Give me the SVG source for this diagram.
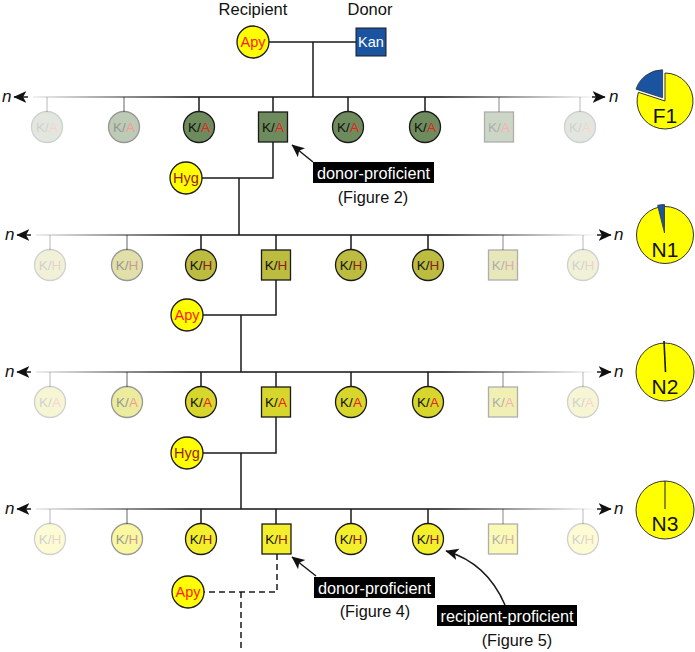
<svg xmlns="http://www.w3.org/2000/svg" width="695" height="652" viewBox="0 0 695 652">
<defs>
<linearGradient id="gl" gradientUnits="userSpaceOnUse" x1="33" y1="0" x2="598" y2="0">
<stop offset="0" stop-color="#ececec"/>
<stop offset="0.28" stop-color="#111"/>
<stop offset="0.72" stop-color="#111"/>
<stop offset="1" stop-color="#ffffff"/>
</linearGradient>
<marker id="ah" viewBox="0 0 10 10" refX="9.5" refY="5" markerWidth="13" markerHeight="13" markerUnits="userSpaceOnUse" orient="auto">
<path d="M0,0.5 L10,5 L0,9.5 L2.5,5 Z" fill="#111"/>
</marker>
<style>
text{font-family:"Liberation Sans",Arial,sans-serif;}
.cn{stroke:#1a1a1a;stroke-width:1.5;fill:none;}
.ds{stroke:#1a1a1a;stroke-width:1.5;fill:none;stroke-dasharray:6,4;}
.gen{stroke:url(#gl);stroke-width:1.6;fill:none;}
.nd{stroke:#1a1a1a;stroke-width:1.3;}
.f1{fill:#6e8b5d;}
.n1{fill:#bbbc40;}
.n2{fill:#d6d62c;}
.n3{fill:#f3ef2d;}
.par{fill:#ffff00;stroke:#1a1a1a;stroke-width:1.3;}
.nt{font-size:13.5px;fill:#111;text-anchor:middle;}
.ra{fill:#e8231f;}
.rh{fill:#8e1b1b;}
.pt{font-size:14.5px;text-anchor:middle;}
.hd{font-size:16.5px;fill:#111;text-anchor:middle;}
.lb{font-size:16.3px;fill:#fff;text-anchor:middle;}
.fg{font-size:16.3px;fill:#111;text-anchor:middle;}
.nn{font-size:17px;font-style:italic;fill:#111;}
.pie{fill:#ffff00;stroke:#333;stroke-width:1;}
.pb{fill:#1a54a0;stroke:#333;stroke-width:0.8;}
.pl{font-size:21px;fill:#111;text-anchor:middle;}
</style>
</defs>
<rect width="695" height="652" fill="#fff"/>

<text class="hd" x="253" y="15">Recipient</text>
<text class="hd" x="370" y="15">Donor</text>

<g id="connectors">
<path class="cn" d="M269,42 H356 M313,42 V97"/>
<path class="gen" d="M33,97 H598"/>
<path class="gen" d="M36,235 H601"/>
<path class="gen" d="M36,372 H601"/>
<path class="gen" d="M36,509 H601"/>
<path class="cn" d="M28,97 H14" marker-end="url(#ah)"/>
<path class="cn" d="M592,97 H605" marker-end="url(#ah)"/>
<path class="cn" d="M31,235 H17" marker-end="url(#ah)"/>
<path class="cn" d="M597,235 H611" marker-end="url(#ah)"/>
<path class="cn" d="M31,372 H17" marker-end="url(#ah)"/>
<path class="cn" d="M597,372 H611" marker-end="url(#ah)"/>
<path class="cn" d="M31,509 H17" marker-end="url(#ah)"/>
<path class="cn" d="M597,509 H611" marker-end="url(#ah)"/>
<path class="cn" opacity="0.2" d="M47,97 V112"/>
<path class="cn" opacity="0.45" d="M124,97 V112"/>
<path class="cn" d="M199,97 V112 M273,97 V112 M348,97 V112 M425,97 V112"/>
<path class="cn" opacity="0.35" d="M499,97 V112"/>
<path class="cn" opacity="0.2" d="M580,97 V112"/>
<path class="cn" opacity="0.2" d="M50,235 V250"/>
<path class="cn" opacity="0.45" d="M127,235 V250"/>
<path class="cn" d="M201,235 V250 M276,235 V250 M351,235 V250 M428,235 V250"/>
<path class="cn" opacity="0.35" d="M503,235 V250"/>
<path class="cn" opacity="0.2" d="M583,235 V250"/>
<path class="cn" opacity="0.2" d="M50,372 V387"/>
<path class="cn" opacity="0.45" d="M127,372 V387"/>
<path class="cn" d="M201,372 V387 M276,372 V387 M351,372 V387 M428,372 V387"/>
<path class="cn" opacity="0.35" d="M503,372 V387"/>
<path class="cn" opacity="0.2" d="M583,372 V387"/>
<path class="cn" opacity="0.2" d="M50,509 V524"/>
<path class="cn" opacity="0.45" d="M127,509 V524"/>
<path class="cn" d="M201,509 V524 M276,509 V524 M351,509 V524 M428,509 V524"/>
<path class="cn" opacity="0.35" d="M503,509 V524"/>
<path class="cn" opacity="0.2" d="M583,509 V524"/>
<path class="cn" d="M273,142 V178 H202 M239,178 V235"/>
<path class="cn" d="M276,280 V315 H203 M241,315 V372"/>
<path class="cn" d="M276,417 V453 H203 M241,453 V509"/>
<path class="ds" d="M277,554 V592 H204 M241,592 V652"/>
<path class="cn" d="M313,162 L292,145" marker-end="url(#ah)"/>
<path class="cn" d="M316,576 L292,557" marker-end="url(#ah)"/>
<path class="cn" d="M505,605 Q487,563 446,551" marker-end="url(#ah)"/>
</g>

<text class="nn" x="2" y="102">n</text>
<text class="nn" x="609" y="102">n</text>
<text class="nn" x="5" y="240">n</text>
<text class="nn" x="614" y="240">n</text>
<text class="nn" x="5" y="377">n</text>
<text class="nn" x="614" y="377">n</text>
<text class="nn" x="5" y="514">n</text>
<text class="nn" x="614" y="514">n</text>

<g id="p-apy0"><circle class="par" cx="253" cy="42" r="16"/><text class="pt" x="253" y="47" fill="#ff1a1a">Apy</text></g>
<g id="p-kan"><rect x="356" y="28" width="30" height="28" fill="#1a54a0" stroke="#1a1a1a" stroke-width="1"/><text class="pt" x="371" y="47" fill="#fff">Kan</text></g>
<g id="p-hyg1"><circle class="par" cx="186" cy="178" r="16"/><text class="pt" x="186" y="183" fill="#9a1a1a">Hyg</text></g>
<g id="p-apy2"><circle class="par" cx="187" cy="315" r="16"/><text class="pt" x="187" y="320" fill="#ff1a1a">Apy</text></g>
<g id="p-hyg3"><circle class="par" cx="187" cy="453" r="16"/><text class="pt" x="187" y="458" fill="#9a1a1a">Hyg</text></g>
<g id="p-apy4"><circle class="par" cx="188" cy="592" r="16"/><text class="pt" x="188" y="597" fill="#ff1a1a">Apy</text></g>

<g id="f1-1" opacity="0.2"><circle class="nd f1" cx="47" cy="127" r="15.5"/><text class="nt" x="47" y="132">K/<tspan class="ra">A</tspan></text></g>
<g id="f1-2" opacity="0.45"><circle class="nd f1" cx="124" cy="127" r="15.5"/><text class="nt" x="124" y="132">K/<tspan class="ra">A</tspan></text></g>
<g id="f1-3"><circle class="nd f1" cx="199" cy="127" r="15.5"/><text class="nt" x="199" y="132">K/<tspan class="ra">A</tspan></text></g>
<g id="f1-4"><rect class="nd f1" x="258.5" y="112" width="29" height="30"/><text class="nt" x="273" y="132">K/<tspan class="ra">A</tspan></text></g>
<g id="f1-5"><circle class="nd f1" cx="348" cy="127" r="15.5"/><text class="nt" x="348" y="132">K/<tspan class="ra">A</tspan></text></g>
<g id="f1-6"><circle class="nd f1" cx="425" cy="127" r="15.5"/><text class="nt" x="425" y="132">K/<tspan class="ra">A</tspan></text></g>
<g id="f1-7" opacity="0.35"><rect class="nd f1" x="484.5" y="112" width="29" height="30"/><text class="nt" x="499" y="132">K/<tspan class="ra">A</tspan></text></g>
<g id="f1-8" opacity="0.2"><circle class="nd f1" cx="580" cy="127" r="15.5"/><text class="nt" x="580" y="132">K/<tspan class="ra">A</tspan></text></g>

<g id="n1-1" opacity="0.2"><circle class="nd n1" cx="50" cy="265" r="15.5"/><text class="nt" x="50" y="270">K/<tspan class="rh">H</tspan></text></g>
<g id="n1-2" opacity="0.45"><circle class="nd n1" cx="127" cy="265" r="15.5"/><text class="nt" x="127" y="270">K/<tspan class="rh">H</tspan></text></g>
<g id="n1-3"><circle class="nd n1" cx="201" cy="265" r="15.5"/><text class="nt" x="201" y="270">K/<tspan class="rh">H</tspan></text></g>
<g id="n1-4"><rect class="nd n1" x="261.5" y="250" width="29" height="30"/><text class="nt" x="276" y="270">K/<tspan class="rh">H</tspan></text></g>
<g id="n1-5"><circle class="nd n1" cx="351" cy="265" r="15.5"/><text class="nt" x="351" y="270">K/<tspan class="rh">H</tspan></text></g>
<g id="n1-6"><circle class="nd n1" cx="428" cy="265" r="15.5"/><text class="nt" x="428" y="270">K/<tspan class="rh">H</tspan></text></g>
<g id="n1-7" opacity="0.35"><rect class="nd n1" x="488.5" y="250" width="29" height="30"/><text class="nt" x="503" y="270">K/<tspan class="rh">H</tspan></text></g>
<g id="n1-8" opacity="0.2"><circle class="nd n1" cx="583" cy="265" r="15.5"/><text class="nt" x="583" y="270">K/<tspan class="rh">H</tspan></text></g>

<g id="n2-1" opacity="0.2"><circle class="nd n2" cx="50" cy="402" r="15.5"/><text class="nt" x="50" y="407">K/<tspan class="ra">A</tspan></text></g>
<g id="n2-2" opacity="0.45"><circle class="nd n2" cx="127" cy="402" r="15.5"/><text class="nt" x="127" y="407">K/<tspan class="ra">A</tspan></text></g>
<g id="n2-3"><circle class="nd n2" cx="201" cy="402" r="15.5"/><text class="nt" x="201" y="407">K/<tspan class="ra">A</tspan></text></g>
<g id="n2-4"><rect class="nd n2" x="261.5" y="387" width="29" height="30"/><text class="nt" x="276" y="407">K/<tspan class="ra">A</tspan></text></g>
<g id="n2-5"><circle class="nd n2" cx="351" cy="402" r="15.5"/><text class="nt" x="351" y="407">K/<tspan class="ra">A</tspan></text></g>
<g id="n2-6"><circle class="nd n2" cx="428" cy="402" r="15.5"/><text class="nt" x="428" y="407">K/<tspan class="ra">A</tspan></text></g>
<g id="n2-7" opacity="0.35"><rect class="nd n2" x="488.5" y="387" width="29" height="30"/><text class="nt" x="503" y="407">K/<tspan class="ra">A</tspan></text></g>
<g id="n2-8" opacity="0.2"><circle class="nd n2" cx="583" cy="402" r="15.5"/><text class="nt" x="583" y="407">K/<tspan class="ra">A</tspan></text></g>

<g id="n3-1" opacity="0.2"><circle class="nd n3" cx="50" cy="539" r="15.5"/><text class="nt" x="50" y="544">K/<tspan class="rh">H</tspan></text></g>
<g id="n3-2" opacity="0.45"><circle class="nd n3" cx="127" cy="539" r="15.5"/><text class="nt" x="127" y="544">K/<tspan class="rh">H</tspan></text></g>
<g id="n3-3"><circle class="nd n3" cx="201" cy="539" r="15.5"/><text class="nt" x="201" y="544">K/<tspan class="rh">H</tspan></text></g>
<g id="n3-4"><rect class="nd n3" x="262" y="524" width="29" height="30"/><text class="nt" x="276.5" y="544">K/<tspan class="rh">H</tspan></text></g>
<g id="n3-5"><circle class="nd n3" cx="351" cy="539" r="15.5"/><text class="nt" x="351" y="544">K/<tspan class="rh">H</tspan></text></g>
<g id="n3-6"><circle class="nd n3" cx="428" cy="539" r="15.5"/><text class="nt" x="428" y="544">K/<tspan class="rh">H</tspan></text></g>
<g id="n3-7" opacity="0.35"><rect class="nd n3" x="488.5" y="524" width="29" height="30"/><text class="nt" x="503" y="544">K/<tspan class="rh">H</tspan></text></g>
<g id="n3-8" opacity="0.2"><circle class="nd n3" cx="583" cy="539" r="15.5"/><text class="nt" x="583" y="544">K/<tspan class="rh">H</tspan></text></g>

<g id="lab-dp2"><rect x="313" y="162" width="121" height="21" fill="#000"/><text class="lb" x="373.5" y="178.5">donor-proficient</text><text class="fg" x="373" y="203">(Figure 2)</text></g>
<g id="lab-dp4"><rect x="314" y="577" width="121" height="21" fill="#000"/><text class="lb" x="374.5" y="593.5">donor-proficient</text><text class="fg" x="375" y="617">(Figure 4)</text></g>
<g id="lab-rp5"><rect x="437" y="605" width="140" height="21" fill="#000"/><text class="lb" x="507" y="621.5">recipient-proficient</text><text class="fg" x="517" y="646">(Figure 5)</text></g>

<g id="pie-f1">
<path class="pie" d="M665,101 L665,73 A28,28 0 1 1 638.4,92.35 Z"/>
<path class="pb" d="M662.6,97.8 L636,89.15 A28,28 0 0 1 662.6,69.8 Z"/>
<text class="pl" x="665" y="123">F1</text>
</g>
<g id="pie-n1">
<circle class="pie" cx="665" cy="235" r="28.5"/>
<path class="pb" d="M664.5,233 L657.6,205.3 A28.5,28.5 0 0 1 664.5,204.5 Z"/>
<text class="pl" x="665" y="257">N1</text>
</g>
<g id="pie-n2">
<circle class="pie" cx="665" cy="372" r="29"/>
<path d="M664,341 L665.5,372" stroke="#1a1a1a" stroke-width="1.6" fill="none"/>
<text class="pl" x="665" y="394">N2</text>
</g>
<g id="pie-n3">
<circle class="pie" cx="665" cy="510" r="29"/>
<path d="M665,481 L665,509" stroke="#1a1a1a" stroke-width="1" fill="none"/>
<text class="pl" x="665" y="531">N3</text>
</g>
</svg>
